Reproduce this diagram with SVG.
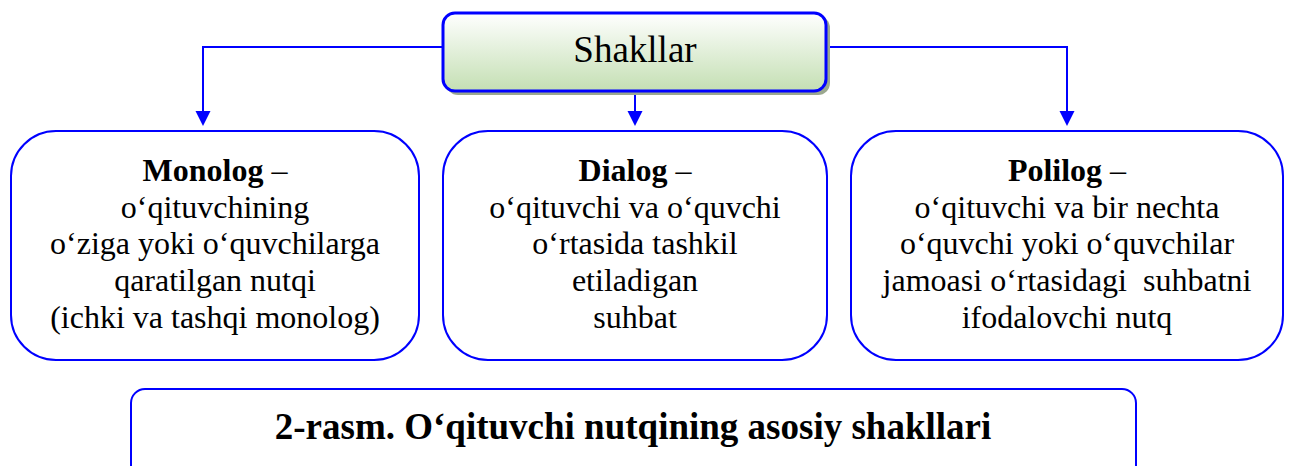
<svg xmlns="http://www.w3.org/2000/svg" width="1291" height="466" viewBox="0 0 1291 466">
<style>
.box{fill:#ffffff;stroke:#0000ff;stroke-width:2}
.t{font-family:"Liberation Serif","Times New Roman",serif;font-size:32px;fill:#000;text-anchor:middle}
.b{font-weight:bold}
.conn{fill:none;stroke:#0000ff;stroke-width:2}
</style>
<defs>
<linearGradient id="g" x1="0" y1="0" x2="0" y2="1">
<stop offset="0" stop-color="#ffffff"/>
<stop offset="1" stop-color="#c4dfb3"/>
</linearGradient>
<marker id="arr" markerWidth="15" markerHeight="15" refX="7.5" refY="15" orient="auto-start-reverse" markerUnits="userSpaceOnUse" viewBox="0 0 15 15">
<path d="M0,0 L15,0 L7.5,15 Z" fill="#0000ff" transform="rotate(-90 7.5 7.5)"/>
</marker>
</defs>
<g id="connectors">
<path class="conn" d="M443,47 H203 V112"/>
<path d="M195.5,111 H210.5 L203,126 Z" fill="#0000ff"/>
<path class="conn" d="M826,47 H1067 V112"/>
<path d="M1059.5,111 H1074.5 L1067,126 Z" fill="#0000ff"/>
<path class="conn" d="M635,88 V112"/>
<path d="M627.5,111 H642.5 L635,126 Z" fill="#0000ff"/>
</g>
<g id="shakllar">
<rect x="446" y="16" width="384" height="79" rx="12" fill="#9ba88f"/>
<rect x="443" y="13" width="383" height="78" rx="12" fill="url(#g)" stroke="#0000ff" stroke-width="3"/>
<text x="635" y="62" class="t" style="font-size:37px">Shakllar</text>
</g>
<g id="monolog">
<rect class="box" x="11" y="131" width="408" height="229" rx="45"/>
<text class="t"><tspan x="215" y="181"><tspan class="b">Monolog</tspan> –</tspan><tspan x="215" y="218">o‘qituvchining</tspan><tspan x="215" y="254">o‘ziga yoki o‘quvchilarga</tspan><tspan x="215" y="291">qaratilgan nutqi</tspan><tspan x="215" y="328">(ichki va tashqi monolog)</tspan></text>
</g>
<g id="dialog">
<rect class="box" x="443" y="131" width="384" height="229" rx="45"/>
<text class="t"><tspan x="635" y="181"><tspan class="b">Dialog</tspan> –</tspan><tspan x="635" y="218">o‘qituvchi va o‘quvchi</tspan><tspan x="635" y="254">o‘rtasida tashkil</tspan><tspan x="635" y="291">etiladigan</tspan><tspan x="635" y="328">suhbat</tspan></text>
</g>
<g id="polilog">
<rect class="box" x="851" y="131" width="432" height="229" rx="45"/>
<text class="t" xml:space="preserve"><tspan x="1067" y="181"><tspan class="b">Polilog</tspan> –</tspan><tspan x="1067" y="218">o‘qituvchi va bir nechta</tspan><tspan x="1067" y="254">o‘quvchi yoki o‘quvchilar</tspan><tspan x="1067" y="291">jamoasi o‘rtasidagi  suhbatni</tspan><tspan x="1067" y="328">ifodalovchi nutq</tspan></text>
</g>
<g id="caption">
<rect class="box" x="131" y="389" width="1005" height="90" rx="14"/>
<text x="633" y="439" class="t b" style="font-size:37px">2-rasm. O‘qituvchi nutqining asosiy shakllari</text>
</g>
</svg>
